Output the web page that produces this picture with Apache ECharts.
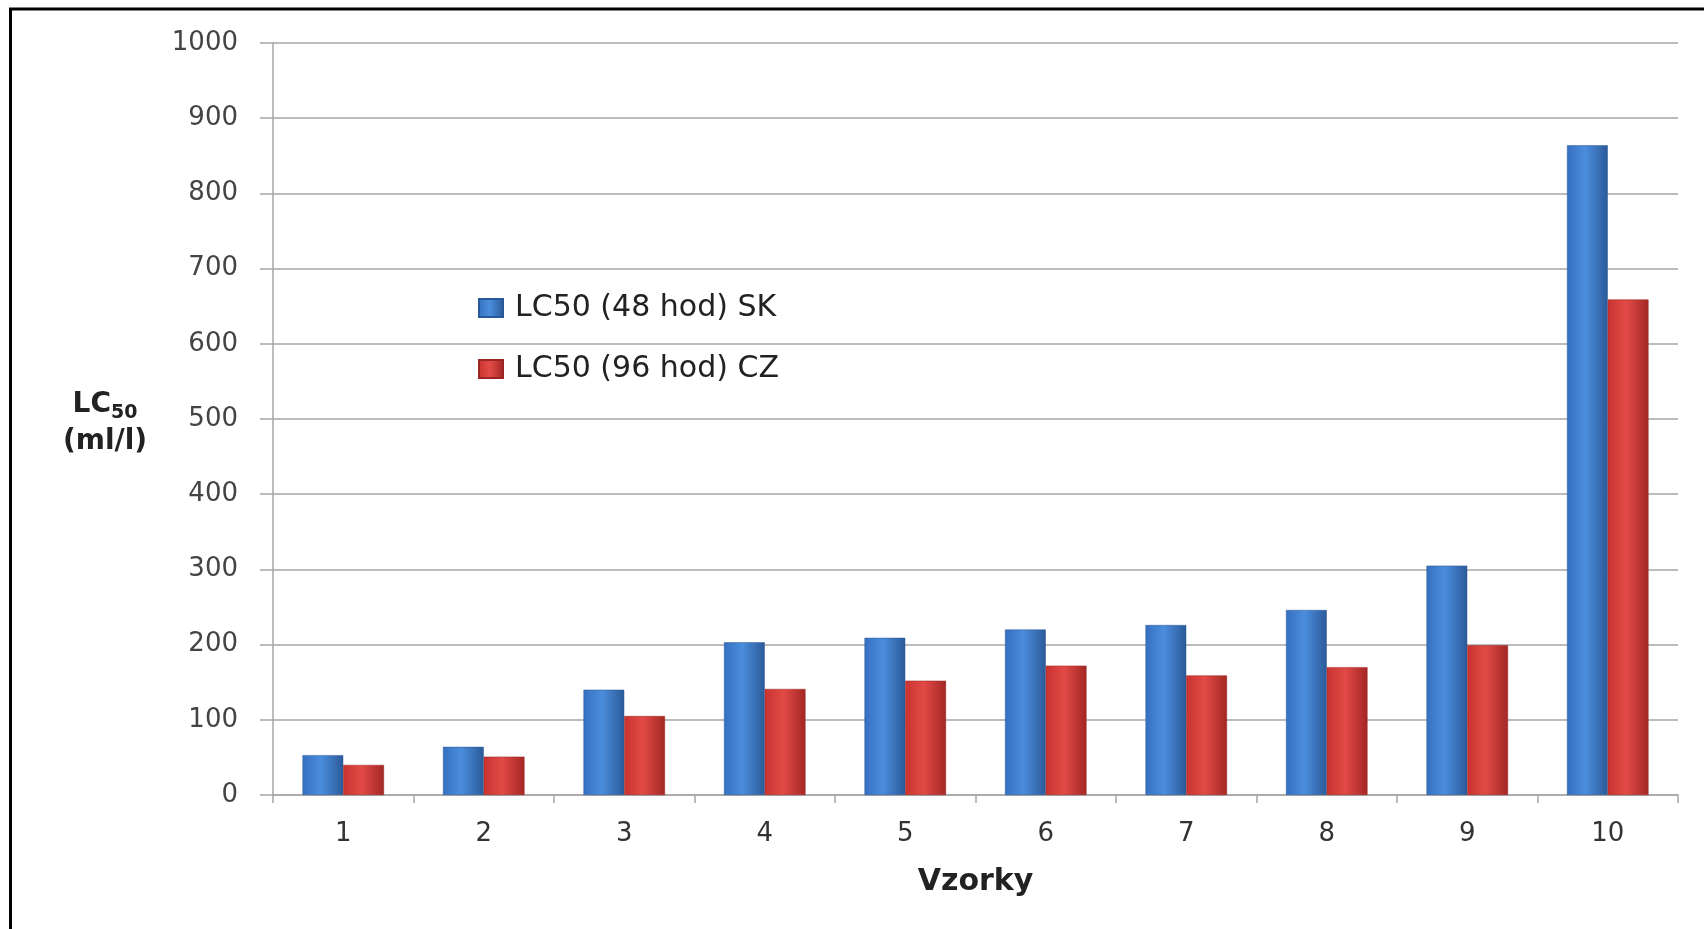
<!DOCTYPE html>
<html>
<head>
<meta charset="utf-8">
<script src="https://cdn.jsdelivr.net/npm/echarts@6/dist/echarts.min.js"></script>
<style>
html,body{margin:0;padding:0;background:#fff;}
#chart{width:1704px;height:929px;}
</style>
</head>
<body>
<div id="chart"></div>
<script>
const categories = ['1','2','3','4','5','6','7','8','9','10'];
const seriesNames = ['LC50 (48 hod) SK', 'LC50 (96 hod) CZ'];
const sk48 = [53, 64, 140, 203, 209, 220, 226, 246, 305, 864];
const cz96 = [40, 51, 105, 141, 152, 172, 159, 170, 199, 659];
const yTicks = { min: 0, max: 1000, interval: 100 };

const FONT = '"DejaVu Sans", Verdana, sans-serif';

function grad(c0, c1, c2) {
  return new echarts.graphic.LinearGradient(0, 0, 1, 0, [
    { offset: 0, color: c0 },
    { offset: 0.45, color: c1 },
    { offset: 1, color: c2 }
  ]);
}
const blue = grad('#3670c0', '#4b8ddd', '#2b5a98');
const red = grad('#c9332f', '#e24a46', '#a32724');

const chart = echarts.init(document.getElementById('chart'), null, { renderer: 'canvas' });
chart.setOption({
  backgroundColor: '#ffffff',
  animation: false,
  grid: { left: 273, right: 26, top: 43, bottom: 134, containLabel: false },
  legend: {
    orient: 'vertical',
    left: 473,
    top: 288,
    itemWidth: 24,
    itemHeight: 18,
    itemGap: 31,
    icon: 'rect',
    textStyle: { fontFamily: FONT, fontSize: 30, color: '#222', padding: [0, 0, 0, 7] },
    data: seriesNames
  },
  xAxis: {
    type: 'category',
    data: categories,
    name: 'Vzorky',
    nameLocation: 'middle',
    nameGap: 72,
    nameTextStyle: { fontFamily: FONT, fontSize: 30, fontWeight: 'bold', color: '#222' },
    axisLine: { show: true, lineStyle: { color: '#a6a6a6', width: 1.5 } },
    axisTick: { show: true, length: 8, lineStyle: { color: '#a6a6a6', width: 1.5 } },
    axisLabel: { fontFamily: FONT, fontSize: 26, color: '#333', margin: 26 },
    splitLine: { show: false }
  },
  yAxis: {
    type: 'value',
    min: yTicks.min,
    max: yTicks.max,
    interval: yTicks.interval,
    name: '{b|LC}{s|50}\n{b|(ml/l)}',
    nameLocation: 'middle',
    nameRotate: 0,
    nameGap: 168,
    nameTextStyle: {
      align: 'center',
      verticalAlign: 'middle',
      padding: [8, 0, 0, 0],
      rich: {
        b: { fontFamily: FONT, fontSize: 28, fontWeight: 'bold', color: '#222', lineHeight: 37 },
        s: { fontFamily: FONT, fontSize: 19, fontWeight: 'bold', color: '#222', lineHeight: 16, verticalAlign: 'bottom' }
      }
    },
    axisLine: { show: true, lineStyle: { color: '#a6a6a6', width: 1.5 } },
    axisTick: { show: true, length: 13, lineStyle: { color: '#a6a6a6', width: 1.5 } },
    axisLabel: { fontFamily: FONT, fontSize: 26, color: '#444', margin: 35, formatter: v => String(v) },
    splitLine: { show: true, lineStyle: { color: '#a6a6a6', width: 1.5 } }
  },
  series: [
    {
      name: seriesNames[0],
      type: 'bar',
      data: sk48,
      barGap: '0%',
      barCategoryGap: '42%',
      itemStyle: { color: blue, borderColor: '#2a5796', borderWidth: 0.5 }
    },
    {
      name: seriesNames[1],
      type: 'bar',
      data: cz96,
      itemStyle: { color: red, borderColor: '#9a2522', borderWidth: 0.5 }
    }
  ],
  graphic: [
    { type: 'line', shape: { x1: 9, y1: 9, x2: 1704, y2: 9 }, style: { stroke: '#000', lineWidth: 3 }, z: 100 },
    { type: 'line', shape: { x1: 10.5, y1: 8, x2: 10.5, y2: 929 }, style: { stroke: '#000', lineWidth: 3 }, z: 100 }
  ]
});
</script>
</body>
</html>
